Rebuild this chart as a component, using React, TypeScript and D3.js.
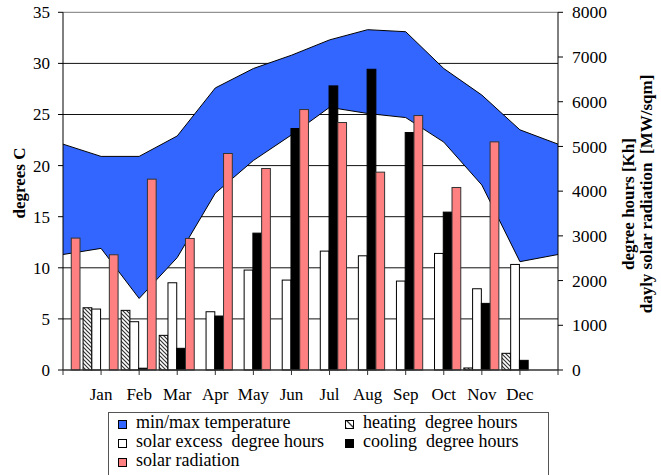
import React from "react";
import * as d3 from "d3";

// positions 0..13 on the category axis; months sit at positions 1..12
const positions = ["", "Jan", "Feb", "Mar", "Apr", "May", "Jun", "Jul", "Aug", "Sep", "Oct", "Nov", "Dec", ""];
const tempMax = [22.1, 20.9, 20.9, 22.9, 27.6, 29.5, 30.8, 32.3, 33.3, 33.1, 29.5, 26.9, 23.5, 22.1];
const tempMin = [11.3, 11.9, 7.0, 11.0, 17.3, 20.5, 23.0, 25.7, 25.1, 24.7, 22.3, 18.1, 10.6, 11.3];
const heating = [null, 1392, 1334, 775, 0, 0, 0, 0, 0, 0, 0, 45, 373, null];
const excess = [null, 1363, 1080, 1951, 1303, 2235, 2011, 2659, 2554, 1989, 2607, 1817, 2361, null];
const cooling = [null, 0, 40, 485, 1207, 3061, 5401, 6354, 6726, 5311, 3531, 1490, 216, null];
const radiation = [2950, 2577, 4268, 2942, 4842, 4507, 5825, 5535, 4425, 5691, 4082, 5102, null, null];
const leftTicks = [0, 5, 10, 15, 20, 25, 30, 35];
const rightTicks = [0, 1000, 2000, 3000, 4000, 5000, 6000, 7000, 8000];
const seriesKeys = ["heating", "excess", "cooling", "radiation"];

const FONT = "'Liberation Serif', 'Times New Roman', serif";

export default function App() {
  const x = d3.scaleLinear().domain([0, positions.length - 1]).range([63, 558]);
  const yL = d3.scaleLinear().domain([0, 35]).range([370, 12.3]);
  const yR = d3.scaleLinear().domain([0, 8000]).range([370, 12.3]);
  const sub = d3.scaleBand().domain(seriesKeys).range([-18, 17]);
  const bw = sub.bandwidth();

  const area = d3
    .area<number>()
    .x((_, i) => x(i))
    .y0((_, i) => yL(tempMin[i]))
    .y1((d) => yL(d));
  const lineMax = d3.line<number>().x((_, i) => x(i)).y((d) => yL(d));
  const lineMin = d3.line<number>().x((_, i) => x(i)).y((d) => yL(d));

  const seriesData: Record<string, (number | null)[]> = { heating, excess, cooling, radiation };
  const fills: Record<string, string> = {
    heating: "url(#hatch)",
    excess: "#ffffff",
    cooling: "#000000",
    radiation: "#ff8080",
  };

  const bars: React.ReactNode[] = [];
  seriesKeys.forEach((k) => {
    seriesData[k].forEach((v, i) => {
      if (v === null || v <= 0) return;
      const x0 = x(i) + (sub(k) as number);
      const y0 = yR(v);
      bars.push(
        <rect
          key={k + i}
          x={x0}
          y={y0}
          width={bw}
          height={yR(0) - y0}
          fill={fills[k]}
          stroke={k === "radiation" ? "#333" : "#000"}
          strokeWidth={1}
        />
      );
    });
  });

  const legendItems = [
    { label: "min/max temperature", fill: "#3366ff", col: 0, row: 0 },
    { label: "heating  degree hours", fill: "url(#hatchL)", col: 1, row: 0 },
    { label: "solar excess  degree hours", fill: "#ffffff", col: 0, row: 1 },
    { label: "cooling  degree hours", fill: "#000000", col: 1, row: 1 },
    { label: "solar radiation", fill: "#ff8080", col: 0, row: 2 },
  ];

  return (
    <div style={{ position: "fixed", left: 0, top: 0 }}>
      <svg width={661} height={475} style={{ display: "block", background: "#fff" }} fontFamily={FONT}>
        <defs>
          <pattern id="hatch" patternUnits="userSpaceOnUse" width={4} height={4}>
            <rect width={4} height={4} fill="#fff" />
            <path d="M-1,-1 L5,5 M-1,3 L1,5 M3,-1 L5,1" stroke="#333" strokeWidth={1.2} />
          </pattern>
          <pattern id="hatchL" patternUnits="userSpaceOnUse" width={8} height={8} x={118} y={0}>
            <rect width={8} height={8} fill="#fff" />
            <path d="M0,0 L8,8 M-4,4 L4,12 M4,-4 L12,4" stroke="#333" strokeWidth={1.3} />
          </pattern>
        </defs>

        {/* gridlines */}
        {leftTicks.filter((t) => t > 0).map((t) => (
          <line key={"g" + t} x1={x(0)} x2={x(13)} y1={yL(t)} y2={yL(t)} stroke={t === 35 ? "#777" : "#111"} strokeWidth={1} />
        ))}

        {/* temperature band */}
        <path d={area(tempMax) || ""} fill="#3366ff" />
        <path d={lineMax(tempMax) || ""} fill="none" stroke="#000" strokeWidth={1} />
        <path d={lineMin(tempMin) || ""} fill="none" stroke="#000" strokeWidth={1} />

        {bars}

        {/* axes */}
        <line x1={x(0)} x2={x(0)} y1={yL(35)} y2={yL(0)} stroke="#000" />
        <line x1={x(13)} x2={x(13)} y1={yR(8000)} y2={yR(0)} stroke="#000" />
        <line x1={x(0)} x2={x(13)} y1={yL(0)} y2={yL(0)} stroke="#333" strokeWidth={1.5} />
        {leftTicks.map((t) => (
          <g key={"l" + t}>
            <line x1={x(0) - 5} x2={x(0)} y1={yL(t)} y2={yL(t)} stroke="#000" />
            <text x={50} y={yL(t)} dy="0.35em" textAnchor="end" fontSize={17}>
              {t}
            </text>
          </g>
        ))}
        {rightTicks.map((t) => (
          <g key={"r" + t}>
            <line x1={x(13)} x2={x(13) + 5} y1={yR(t)} y2={yR(t)} stroke="#000" />
            <text x={572} y={yR(t)} dy="0.35em" textAnchor="start" fontSize={17.5}>
              {t}
            </text>
          </g>
        ))}
        {positions.map((p, i) => (
          <g key={"x" + i}>
            <line x1={x(i)} x2={x(i)} y1={yL(0)} y2={yL(0) + 5} stroke="#333" />
            {p && (
              <text x={x(i)} y={400} textAnchor="middle" fontSize={17}>
                {p}
              </text>
            )}
          </g>
        ))}

        {/* axis titles */}
        <text transform="translate(25,183) rotate(-90)" textAnchor="middle" fontSize={17} fontWeight="bold">
          degrees C
        </text>
        <text transform="translate(634,204) rotate(-90)" textAnchor="middle" fontSize={17} fontWeight="bold">
          degree hours [Kh]
        </text>
        <text transform="translate(652,194) rotate(-90)" textAnchor="middle" fontSize={17} fontWeight="bold" style={{ whiteSpace: "pre" }}>
          {"dayly solar radiation  [MW/sqm]"}
        </text>

        {/* legend */}
        <rect x={108.5} y={412.5} width={440} height={80} fill="#fff" stroke="#555" />
        {legendItems.map((it) => {
          const lx = it.col === 0 ? 118 : 345;
          const ly = 428 + it.row * 19;
          return (
            <g key={it.label}>
              <rect x={lx + 0.5} y={ly - 7.5} width={8} height={8} fill={it.fill} stroke="#000" />
              <text x={lx + 18} y={ly} fontSize={18} style={{ whiteSpace: "pre" }}>
                {it.label}
              </text>
            </g>
          );
        })}
      </svg>
    </div>
  );
}
